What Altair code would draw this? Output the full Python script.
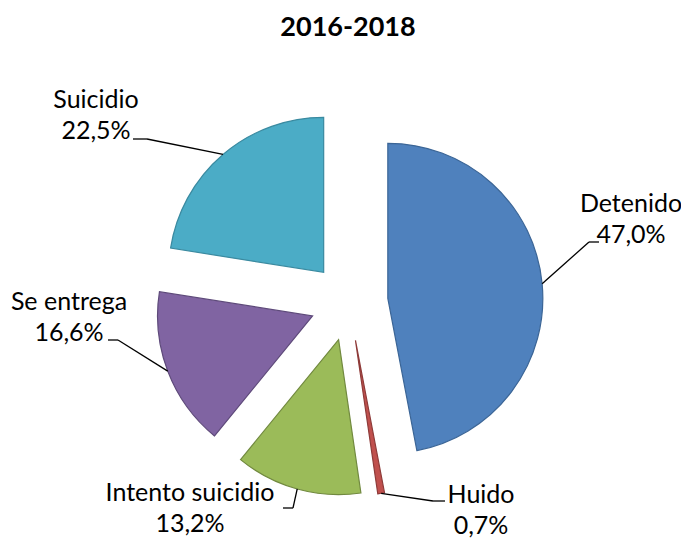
import altair as alt
import pandas as pd

# ---- data ----
title_text = "2016-2018"
categories = ["Detenido", "Huido", "Intento suicidio", "Se entrega", "Suicidio"]
values = [47.0, 0.7, 13.2, 16.6, 22.5]

fill_colors = ["#4F81BD", "#C0504D", "#9BBB59", "#8064A2", "#4BACC6"]
stroke_colors = ["#3B6596", "#8E3B39", "#71893F", "#5E4A7A", "#3A8AA0"]

# ---- layout (page pixels) ----
label_x = [631, 481, 190, 69, 96]
label_y = [204, 495, 493, 302, 100]
elbow_x = [589, 433, 293, 118, 147]
elbow_y = [242, 501, 508, 340, 139]
end_x = [599, 445, 283, 108, 133]
end_y = [242, 501, 508, 340, 139]

CX, CY, R, EXPLODE = 349, 302, 155, 39
W, H = 673, 530
FONT = "Lato"

df = pd.DataFrame({
    "category": categories,
    "value": values,
    "order": list(range(len(categories))),
    "label_x": label_x, "label_y": label_y,
    "elbow_x": elbow_x, "elbow_y": elbow_y,
    "end_x": end_x, "end_y": end_y,
})

xs = alt.Scale(domain=[8, 8 + W], range=[0, W])
ys = alt.Scale(domain=[8, 8 + H], range=[0, H])

base = (
    alt.Chart(df)
    .transform_joinaggregate(total="sum(value)")
    .transform_window(cum="sum(value)", sort=[alt.SortField("order")], frame=[None, 0])
    .transform_calculate(
        t0="2*PI*(datum.cum - datum.value)/datum.total",
        t1="2*PI*datum.cum/datum.total",
    )
    .transform_calculate(mid="(datum.t0 + datum.t1)/2")
    .transform_calculate(
        cx=f"{CX} + {EXPLODE}*sin(datum.mid)",
        cy=f"{CY} - {EXPLODE}*cos(datum.mid)",
    )
    .transform_calculate(
        ex=f"datum.cx + {R}*sin(datum.mid)",
        ey=f"datum.cy - {R}*cos(datum.mid)",
        pct="replace(format(datum.value, '.1f'), '.', ',') + '%'",
    )
)

arcs = base.mark_arc(radius=R, strokeWidth=1.2).encode(
    x=alt.X("cx:Q", scale=xs, axis=None),
    y=alt.Y("cy:Q", scale=ys, axis=None),
    theta=alt.Theta("t0:Q", scale=None, stack=None),
    theta2="t1:Q",
    fill=alt.Fill("category:N", scale=alt.Scale(domain=categories, range=fill_colors), legend=None),
    stroke=alt.Stroke("category:N", scale=alt.Scale(domain=categories, range=stroke_colors), legend=None),
)

lead1 = base.mark_rule(color="black", strokeWidth=1.3).encode(
    x=alt.X("ex:Q", scale=xs, axis=None),
    y=alt.Y("ey:Q", scale=ys, axis=None),
    x2="elbow_x:Q",
    y2="elbow_y:Q",
)
lead2 = base.mark_rule(color="black", strokeWidth=1.3).encode(
    x=alt.X("elbow_x:Q", scale=xs, axis=None),
    y=alt.Y("elbow_y:Q", scale=ys, axis=None),
    x2="end_x:Q",
    y2="end_y:Q",
)

name_text = base.mark_text(font=FONT, fontSize=25, align="center", baseline="middle", color="black").encode(
    x=alt.X("label_x:Q", scale=xs, axis=None),
    y=alt.Y("label_y:Q", scale=ys, axis=None),
    text="category:N",
)
pct_text = base.mark_text(font=FONT, fontSize=25, align="center", baseline="middle", color="black", dy=31).encode(
    x=alt.X("label_x:Q", scale=xs, axis=None),
    y=alt.Y("label_y:Q", scale=ys, axis=None),
    text="pct:N",
)

title = alt.Chart(pd.DataFrame({"t": [title_text]})).mark_text(
    font=FONT, fontSize=27, fontWeight="bold", align="center", baseline="middle", color="black"
).encode(
    x=alt.value(348 - 8),
    y=alt.value(28 - 8),
    text="t:N",
)

chart = (
    alt.layer(arcs, lead1, lead2, name_text, pct_text, title)
    .properties(width=W, height=H, autosize=alt.AutoSizeParams(type="none"), padding=0)
    .configure_view(stroke=None)
)

chart.save("out.html", embed_options={"renderer": "svg", "actions": False})
